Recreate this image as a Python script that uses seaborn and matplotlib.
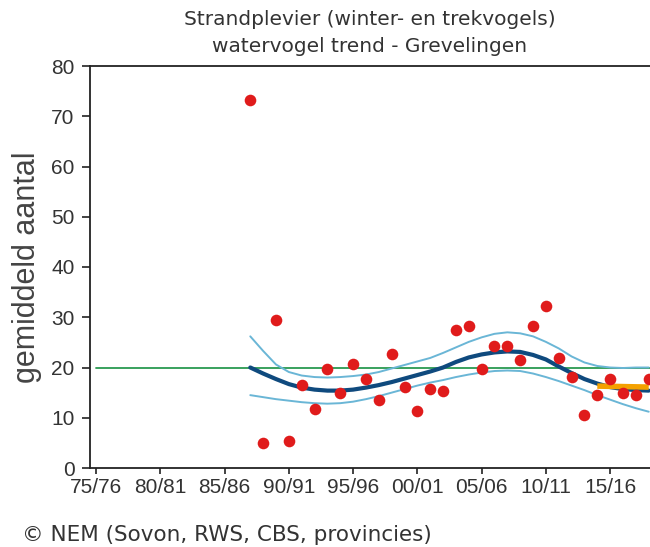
import matplotlib
matplotlib.use("Agg")
import pandas as pd
import seaborn as sns
from matplotlib import pyplot as plt

# seasons (start year of the winter season)
years = list(range(1987, 2019))

# mean counts per season (red dots)
counts = [73.2, 5.0, 29.5, 5.3, 16.6, 11.8, 19.8, 15.0, 20.7, 17.8,
          13.5, 22.7, 16.2, 11.4, 15.8, 15.4, 27.5, 28.3, 19.8, 24.3,
          24.3, 21.5, 28.3, 32.3, 21.9, 18.2, 10.6, 14.6, 17.8, 15.0,
          14.6, 17.8]

# smoothed trend and its confidence band
trend = [20.0, 18.8, 17.7, 16.7, 16.0, 15.6, 15.4, 15.4, 15.6, 16.0,
         16.5, 17.1, 17.8, 18.5, 19.2, 20.0, 21.1, 22.0, 22.6, 23.0,
         23.2, 23.1, 22.5, 21.6, 20.2, 18.9, 17.7, 16.8, 16.1, 15.7,
         15.5, 15.4]
upper = [26.2, 23.3, 20.6, 19.1, 18.4, 18.1, 18.0, 18.1, 18.3, 18.6,
         19.1, 19.8, 20.5, 21.2, 21.9, 22.9, 24.0, 25.1, 26.0, 26.7,
         27.0, 26.8, 26.2, 25.1, 23.8, 22.2, 21.0, 20.3, 20.0, 19.9,
         20.0, 20.0]
lower = [14.5, 14.1, 13.7, 13.4, 13.1, 12.9, 12.8, 12.9, 13.2, 13.7,
         14.3, 15.0, 15.7, 16.4, 17.0, 17.5, 18.1, 18.6, 19.0, 19.3,
         19.4, 19.3, 18.8, 18.1, 17.3, 16.4, 15.5, 14.5, 13.6, 12.7,
         11.9, 11.2]

# reference level (green) and recent level (orange)
ref_years = [1975, 2019]
ref_level = [20.0, 20.0]
recent_years = [2014, 2018]
recent_level = [16.3, 16.1]

tick_years = list(range(1975, 2016, 5))
tick_labels = ["75/76", "80/81", "85/86", "90/91", "95/96",
               "00/01", "05/06", "10/11", "15/16"]
y_ticks = list(range(0, 81, 10))

df = pd.DataFrame({"jaar": years, "aantal": counts, "trend": trend,
                   "boven": upper, "onder": lower})

sns.set_style("ticks")
plt.rcParams["font.family"] = ["DejaVu Sans"]

W, H = 650, 547
fig = plt.figure(figsize=(W / 100, H / 100), dpi=100)
ax = fig.add_axes([90 / W, 1 - 468 / H, 560 / W, (468 - 66) / H])

sns.lineplot(x=ref_years, y=ref_level, ax=ax, color="#2a9a50", lw=1.3)
sns.lineplot(data=df, x="jaar", y="boven", ax=ax, color="#6ab6d6", lw=1.4)
sns.lineplot(data=df, x="jaar", y="onder", ax=ax, color="#6ab6d6", lw=1.4)
sns.lineplot(data=df, x="jaar", y="trend", ax=ax, color="#0f4a7e", lw=3.0)
sns.lineplot(x=recent_years, y=recent_level, ax=ax, color="#f4a100", lw=4.0,
             solid_capstyle="butt")
sns.scatterplot(data=df, x="jaar", y="aantal", ax=ax, color="#e01b1b",
                s=70, linewidth=0, zorder=5, clip_on=False)

ax.set_xlim(1974.53, 2018.1)
ax.set_ylim(0, 80)
ax.set_xticks(tick_years)
ax.set_xticklabels(tick_labels, family="Liberation Sans", fontsize=15,
                   color="#333333")
ax.set_yticks(y_ticks)
ax.set_yticklabels([str(v) for v in y_ticks], family="Liberation Sans",
                   fontsize=15, color="#333333")
ax.tick_params(axis="y", length=6, width=1.2, pad=5, color="#222222")
ax.tick_params(axis="x", length=4, width=1.2, pad=3, color="#222222")
ax.set_xlabel("")
ax.set_ylabel("gemiddeld aantal", family="Liberation Sans", fontsize=22,
              color="#444444", labelpad=7)

for side in ["left", "bottom", "top"]:
    ax.spines[side].set_linewidth(1.3)
    ax.spines[side].set_color("#222222")
ax.spines["right"].set_visible(False)

ax.set_title("Strandplevier (winter- en trekvogels)\nwatervogel trend - Grevelingen",
             fontsize=14.5, color="#333333", linespacing=1.55, pad=10)

fig.text(22 / W, 1 - 535 / H, "© NEM (Sovon, RWS, CBS, provincies)",
         fontsize=15.5, color="#333333", va="center", ha="left")

fig.savefig("out.png", dpi=100)
